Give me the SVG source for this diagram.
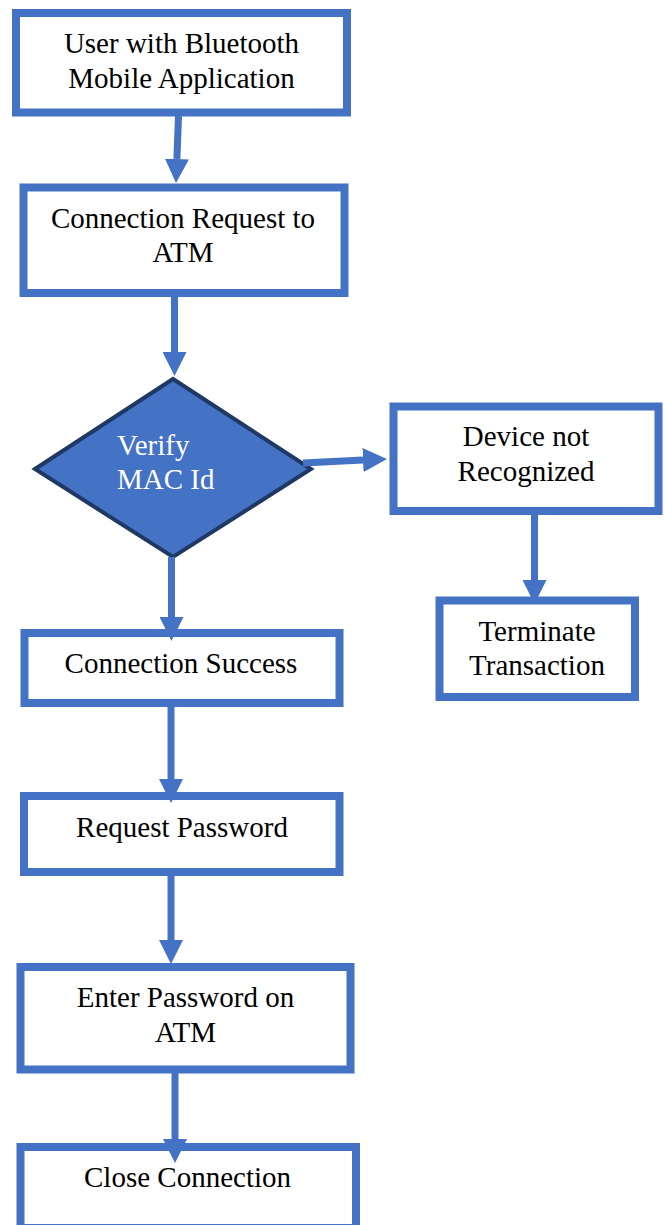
<svg xmlns="http://www.w3.org/2000/svg" width="665" height="1225" viewBox="0 0 665 1225">
<style>
.box{fill:#fff;stroke:#4472C4;stroke-width:8}
.dia{fill:#4472C4;stroke:#203864;stroke-width:4;stroke-linejoin:miter}
text{font-family:'Liberation Serif','Times New Roman',Times,'DejaVu Serif',serif;font-size:29px}
.t{fill:#000;text-anchor:middle}
.tw{fill:#fff}
.c{stroke:#4472C4;stroke-width:7;fill:none;marker-end:url(#ah)}
</style>
<defs>
<marker id="ah" markerUnits="userSpaceOnUse" markerWidth="24" markerHeight="24" refX="0" refY="12" orient="auto" viewBox="0 0 24 24">
<path d="M0,0 L24,12 L0,24 Z" fill="#4472C4"/>
</marker>
</defs>
<rect width="665" height="1225" fill="#fff"/>
<g id="n1"><rect class="box" x="16" y="13" width="331" height="99.5"/>
<text class="t" x="181.5" y="53" font-family="Liberation Serif, serif">User with Bluetooth</text><text class="t" x="181.5" y="88" font-family="Liberation Serif, serif">Mobile Application</text></g>
<g id="n2"><rect class="box" x="23.5" y="187.5" width="321" height="105.5"/>
<text class="t" x="183" y="228">Connection Request to</text><text class="t" x="183" y="262">ATM</text></g>
<g id="n3"><polygon class="dia" points="35,469 173,379 311,469 173,557"/>
<text class="tw" x="117" y="455">Verify</text><text class="tw" x="117" y="489">MAC Id</text></g>
<g id="n4"><rect class="box" x="393.5" y="406.5" width="265" height="104.5"/>
<text class="t" x="526" y="446">Device not</text><text class="t" x="526" y="481">Recognized</text></g>
<g id="n5"><rect class="box" x="439.5" y="600.5" width="195.5" height="96.5"/>
<text class="t" x="537" y="641">Terminate</text><text class="t" x="537" y="675">Transaction</text></g>
<g id="n6"><rect class="box" x="24.5" y="633" width="315" height="70"/>
<text class="t" x="181" y="673">Connection Success</text></g>
<g id="n7"><rect class="box" x="24" y="796" width="315.5" height="76"/>
<text class="t" x="182" y="837">Request Password</text></g>
<g id="n8"><rect class="box" x="20.5" y="967" width="330" height="102.5"/>
<text class="t" x="185.5" y="1007">Enter Password on</text><text class="t" x="185.5" y="1042">ATM</text></g>
<g id="n9"><rect class="box" x="20.5" y="1147" width="335.5" height="81"/>
<text class="t" x="187.5" y="1187">Close Connection</text></g>
<g id="connectors">
<line class="c" x1="178.5" y1="116" x2="176.9" y2="159"/>
<line class="c" x1="174.5" y1="294" x2="174.5" y2="352"/>
<line class="c" x1="303" y1="463" x2="363" y2="460.1"/>
<line class="c" x1="534.5" y1="514" x2="534.5" y2="580"/>
<line class="c" x1="171.5" y1="557" x2="171.5" y2="617"/>
<line class="c" x1="171" y1="707" x2="171" y2="779"/>
<line class="c" x1="171" y1="876" x2="171" y2="940"/>
<line class="c" x1="175" y1="1073" x2="175" y2="1139"/>
</g>
</svg>
